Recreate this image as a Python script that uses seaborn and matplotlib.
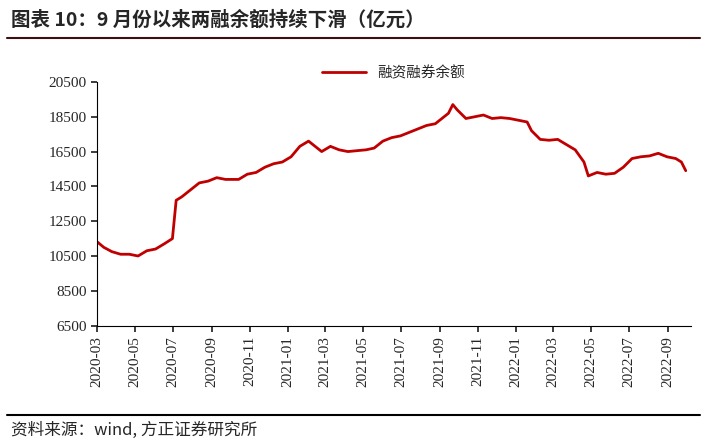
import matplotlib
matplotlib.use("Agg")
import matplotlib.pyplot as plt
import matplotlib.dates as mdates
import seaborn as sns
import pandas as pd

dates = ["2020-03-02","2020-03-12","2020-03-25","2020-04-08","2020-04-22","2020-05-06","2020-05-20","2020-06-03","2020-06-17","2020-06-30",
         "2020-07-06","2020-07-15","2020-07-29","2020-08-12","2020-08-26","2020-09-09","2020-09-23","2020-10-14","2020-10-28","2020-11-11",
         "2020-11-25","2020-12-09","2020-12-23","2021-01-06","2021-01-20","2021-02-03","2021-02-10","2021-02-24","2021-03-10","2021-03-24",
         "2021-04-07","2021-04-21","2021-05-06","2021-05-19","2021-06-02","2021-06-16","2021-06-30","2021-07-14","2021-07-28","2021-08-11",
         "2021-08-25","2021-09-08","2021-09-15","2021-09-22","2021-09-29","2021-10-13","2021-10-27","2021-11-10","2021-11-24","2021-12-08",
         "2021-12-22","2022-01-05","2022-01-19","2022-01-26","2022-02-09","2022-02-23","2022-03-09","2022-03-23","2022-04-06","2022-04-20",
         "2022-04-27","2022-05-11","2022-05-25","2022-06-08","2022-06-22","2022-07-06","2022-07-20","2022-08-03","2022-08-17","2022-08-31",
         "2022-09-14","2022-09-23","2022-09-30"]
values = [11300,11000,10750,10600,10600,10500,10800,10900,11200,11500,
          13700,13900,14300,14700,14800,15000,14900,14900,15200,15300,
          15600,15800,15900,16200,16800,17100,16900,16500,16800,16600,
          16500,16550,16600,16700,17100,17300,17400,17600,17800,18000,
          18100,18500,18700,19200,18900,18400,18500,18600,18400,18450,
          18400,18300,18200,17700,17200,17150,17200,16900,16600,15900,
          15100,15300,15200,15250,15600,16100,16200,16250,16400,16200,
          16100,15900,15400]
series_name = "融资融券余额"
yticks = list(range(6500, 20501, 2000))

df = pd.DataFrame({"date": pd.to_datetime(dates), "value": values})

sns.set_theme(style="white")
plt.rcParams['font.family'] = ['Noto Sans CJK SC', 'DejaVu Sans']

fig = plt.figure(figsize=(7.07, 4.43), dpi=100)
ax = fig.add_axes([0.137, 0.265, 0.84, 0.55])
sns.lineplot(data=df, x="date", y="value", color="#C00000", lw=2.0, ax=ax, label=series_name)
ax.set_ylim(6500, 20500)
ax.set_yticks(yticks)
ax.set_xlim(pd.Timestamp("2020-03-01"), pd.Timestamp("2022-10-08"))
ax.xaxis.set_major_locator(mdates.MonthLocator(bymonth=[1,3,5,7,9,11]))
ax.xaxis.set_major_formatter(mdates.DateFormatter("%Y-%m"))
ax.tick_params(axis="x", rotation=90, labelsize=11, direction="out", length=4, bottom=True)
ax.tick_params(axis="y", labelsize=11, direction="out", length=4, left=True)
for lab in ax.get_xticklabels() + ax.get_yticklabels():
    lab.set_family("Liberation Serif")
ax.set_xlabel(""); ax.set_ylabel("")
for s in ["top", "right"]:
    ax.spines[s].set_visible(False)
for s in ["left", "bottom"]:
    ax.spines[s].set_color("black"); ax.spines[s].set_linewidth(0.8)
ax.legend(loc="upper center", bbox_to_anchor=(0.5, 1.12), frameon=False, fontsize=10.5, handlelength=3)

fig.text(0.015, 0.955, "图表 10：9 月份以来两融余额持续下滑（亿元）", fontsize=14, fontweight="bold", va="center")
fig.add_artist(plt.Line2D([0.01, 0.99], [0.915, 0.915], color="#3a1010", lw=1.5))
fig.add_artist(plt.Line2D([0.01, 0.99], [0.063, 0.063], color="black", lw=1.5))
fig.text(0.015, 0.028, "资料来源：wind, 方正证券研究所", fontsize=12, style="italic", va="center")
fig.savefig("out.png", dpi=100)
